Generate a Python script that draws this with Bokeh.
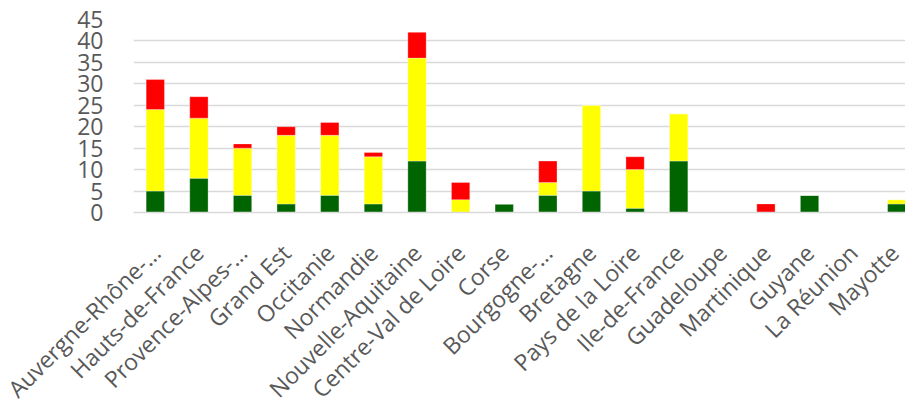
import math
from bokeh.plotting import figure
from bokeh.models import ColumnDataSource, Range1d, FixedTicker
from bokeh.embed import file_html
from bokeh.resources import INLINE

categories = ["Auvergne-Rhône-…", "Hauts-de-France", "Provence-Alpes-…", "Grand Est",
              "Occitanie", "Normandie", "Nouvelle-Aquitaine", "Centre-Val de Loire",
              "Corse", "Bourgogne-…", "Bretagne", "Pays de la Loire", "Ile-de-France",
              "Guadeloupe", "Martinique", "Guyane", "La Réunion", "Mayotte"]
green = [5, 8, 4, 2, 4, 2, 12, 0, 2, 4, 5, 1, 12, 0, 0, 4, 0, 2]
yellow = [19, 14, 11, 16, 14, 11, 24, 3, 0, 3, 20, 9, 11, 0, 0, 0, 0, 1]
red = [7, 5, 1, 2, 3, 1, 6, 4, 0, 5, 0, 3, 0, 0, 2, 0, 0, 0]
y_ticks = [0, 5, 10, 15, 20, 25, 30, 35, 40, 45]

xs = list(range(len(categories)))
source = ColumnDataSource(dict(x=xs, green=green, yellow=yellow, red=red))

p = figure(frame_width=772, frame_height=193, output_backend="svg", toolbar_location=None,
           x_range=Range1d(-0.5, 17.2), y_range=Range1d(0, 45),
           min_border_left=133, min_border_top=19, min_border_bottom=0,
           min_border_right=0)
p.outline_line_color = None
p.background_fill_color = "white"
p.border_fill_color = "white"

p.vbar_stack(["green", "yellow", "red"], x="x", width=0.42, source=source,
             color=["#006400", "#FFFF00", "#FF0000"],
             line_color="white", line_width=0.6, line_alpha=0.5)

p.xgrid.grid_line_color = None
p.ygrid.grid_line_color = "#d9d9d9"
p.ygrid.grid_line_width = 1.6
p.ygrid.ticker = FixedTicker(ticks=y_ticks)

p.yaxis.ticker = FixedTicker(ticks=y_ticks)
p.yaxis.axis_line_color = None
p.yaxis.major_tick_line_color = None
p.yaxis.minor_tick_line_color = None
p.yaxis.major_label_text_font = "Open Sans"
p.yaxis.major_label_text_font_size = "23px"
p.yaxis.major_label_text_color = "#595959"
p.yaxis.major_label_standoff = 24

p.xaxis.ticker = FixedTicker(ticks=xs)
p.xaxis.major_label_overrides = {i: c for i, c in enumerate(categories)}
p.xaxis.axis_line_color = "#d9d9d9"
p.xaxis.axis_line_width = 1.6
p.xaxis.major_tick_line_color = None
p.xaxis.minor_tick_line_color = None
p.xaxis.major_label_orientation = math.pi / 4
p.xaxis.major_label_text_font = "Open Sans"
p.xaxis.major_label_text_font_size = "23px"
p.xaxis.major_label_text_color = "#595959"
p.xaxis.major_label_standoff = 30

open("out.html", "w").write(file_html(p, INLINE))
